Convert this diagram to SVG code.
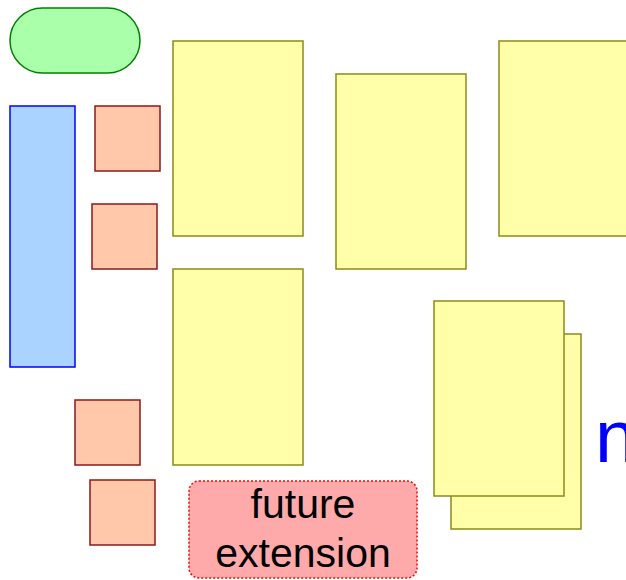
<svg xmlns="http://www.w3.org/2000/svg" width="626" height="580" viewBox="0 0 626 580">
<style>
.pill{fill:#aaffaa;stroke:#008000;stroke-width:1.5}
.blue{fill:#aad4ff;stroke:#0000ff;stroke-width:1.5}
.sq{fill:#ffc8aa;stroke:#8b1a1a;stroke-width:1.5}
.yel{fill:#ffffaa;stroke:#8b8b1a;stroke-width:1.5}
.fut{fill:#ffaaaa;stroke:#ff0000;stroke-width:1.5;stroke-dasharray:2,2}
.t{font-family:"Liberation Sans",Arial,sans-serif;text-anchor:middle;fill:#000;font-size:41px}
.n{font-family:"Liberation Sans",Arial,sans-serif;fill:#0000ff;font-size:75px}
</style>
<g id="pill"><rect class="pill" x="10" y="8" width="130" height="65" rx="32.5" ry="32.5"/></g>
<g id="blue"><rect class="blue" x="10" y="106" width="65" height="261"/></g>
<g id="sq1"><rect class="sq" x="95" y="106" width="65" height="65"/></g>
<g id="sq2"><rect class="sq" x="92" y="204" width="65" height="65"/></g>
<g id="sq3"><rect class="sq" x="75" y="400" width="65" height="65"/></g>
<g id="sq4"><rect class="sq" x="90" y="480" width="65" height="65"/></g>
<g id="y1"><rect class="yel" x="173" y="41" width="130" height="195"/></g>
<g id="y2"><rect class="yel" x="336" y="74" width="130" height="195"/></g>
<g id="y3"><rect class="yel" x="499" y="41" width="130" height="195"/></g>
<g id="y4"><rect class="yel" x="173" y="269" width="130" height="196"/></g>
<g id="stack">
<rect class="yel" x="451" y="334" width="130" height="195"/>
<rect class="yel" x="434" y="301" width="130" height="195"/>
</g>
<g id="nlabel"><text class="n" x="595" y="462">n</text></g>
<g id="future">
<rect class="fut" x="189" y="481" width="228" height="97" rx="10" ry="10"/>
<text class="t" x="303" y="518">future</text>
<text class="t" x="303" y="567">extension</text>
</g>
<g id="connectors"/>
</svg>
